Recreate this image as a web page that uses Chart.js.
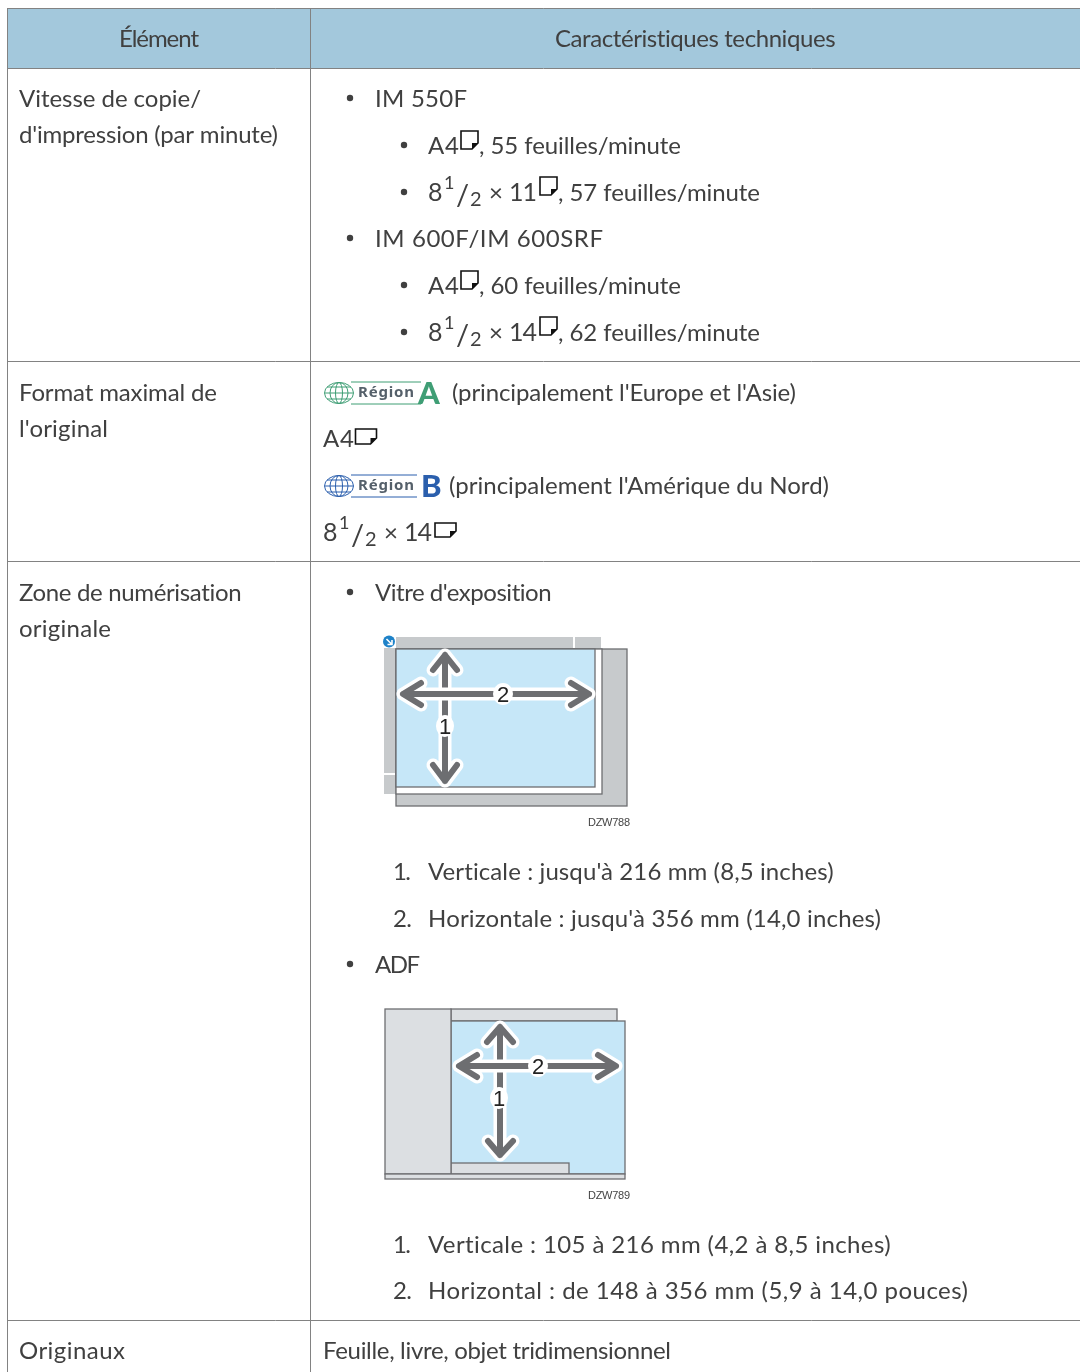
<!DOCTYPE html>
<html lang="fr">
<head>
<meta charset="utf-8">
<title>Caractéristiques techniques</title>
<script src="https://cdn.jsdelivr.net/npm/chart.js@4/dist/chart.umd.js"></script>
<style>
    body { margin: 0; background: #fff; }
    canvas { display: block; }
</style>
</head>
<body>
<canvas id="specTable" width="1080" height="1372"></canvas>
<script>
// table content
const columnHeaders = ['Élément', 'Caractéristiques techniques'];
const itemLines = ['Vitesse de copie/', "d'impression (par minute)", 'Format maximal de', "l'original", 'Zone de numérisation', 'originale', 'Originaux'];
const modelNames = ['IM 550F', 'IM 600F/IM 600SRF'];
const speedLines = [', 55 feuilles/minute', ', 57 feuilles/minute', ', 60 feuilles/minute', ', 62 feuilles/minute'];
const regionNotes = ["(principalement l'Europe et l'Asie)", "(principalement l'Amérique du Nord)"];
const scanHeadings = ["Vitre d'exposition", 'ADF'];
const scanLines = ["Verticale : jusqu'à 216 mm (8,5 inches)", "Horizontale : jusqu'à 356 mm (14,0 inches)", 'Verticale : 105 à 216 mm (4,2 à 8,5 inches)', 'Horizontal : de 148 à 356 mm (5,9 à 14,0 pouces)'];
const originalTypes = 'Feuille, livre, objet tridimensionnel';
const figureCodes = ['DZW788', 'DZW789'];

// table geometry, in axis units
const colEdges = [7, 310];
const rowEdges = [8, 68, 361, 561, 1320];
const bulletsBig = [[350, 98], [350, 238], [350, 592], [350, 964]];
const bulletsSmall = [[404, 145], [404, 192], [404, 285], [404, 332]];

const vArrow1 = [[433, 670], [445, 655], [457, 670], [445, 655], [445, 781], [433, 765], [445, 781], [457, 765]];
const hArrow1 = [[421, 683], [403, 694], [421, 705], [403, 694], [589, 694], [571, 683], [589, 694], [571, 705]];
const vArrow2 = [[487, 1042], [500, 1027], [513, 1042], [500, 1027], [500, 1155], [488, 1141], [500, 1155], [513, 1141]];
const hArrow2 = [[477, 1055], [459, 1066], [477, 1077], [459, 1066], [616, 1066], [598, 1055], [616, 1066], [598, 1077]];

const toPoints = list => list.map(p => ({ x: p[0], y: p[1] }));
const arrowSets = (path, order) => [
    { data: toPoints(path), showLine: true, pointRadius: 0, borderColor: '#6d6e71', borderWidth: 6, borderJoinStyle: 'round', borderCapStyle: 'round', order: order },
    { data: toPoints(path), showLine: true, pointRadius: 0, borderColor: '#ffffff', borderWidth: 13, borderJoinStyle: 'round', borderCapStyle: 'round', order: order + 1 }
];

const TEXT = '#404040';
const FONT = 'Lato';

const tablePainter = {
    id: 'tablePainter',
    beforeDatasetsDraw(chart) {
        const ctx = chart.ctx, sx = chart.scales.x, sy = chart.scales.y;
        const X = v => sx.getPixelForValue(v), Y = v => sy.getPixelForValue(v);
        const box = (x0, y0, x1, y1, fill, line) => {
            ctx.fillStyle = fill;
            ctx.fillRect(X(x0), Y(y0), X(x1) - X(x0), Y(y1) - Y(y0));
            if (line) {
                ctx.strokeStyle = line;
                ctx.lineWidth = 1.3;
                ctx.strokeRect(X(x0), Y(y0), X(x1) - X(x0), Y(y1) - Y(y0));
            }
        };

        // first figure
        box(396, 637, 573, 648, '#c7cacc');
        box(575, 637, 601, 648, '#c7cacc');
        box(384, 648, 395, 773, '#c7cacc');
        box(384, 775, 395, 794, '#c7cacc');
        box(396, 649, 627, 806, '#c7cacc', '#6d6e71');
        box(396, 649, 602, 794, '#ffffff', '#6d6e71');
        box(396, 649, 595, 787, '#c6e7f8', '#6d6e71');
        ctx.fillStyle = '#1e82c8';
        ctx.beginPath();
        ctx.arc(X(389), Y(641.5), 6, 0, Math.PI * 2);
        ctx.fill();
        ctx.strokeStyle = '#ffffff';
        ctx.lineWidth = 1.6;
        ctx.beginPath();
        ctx.moveTo(X(386.5), Y(639));
        ctx.lineTo(X(391.5), Y(644));
        ctx.moveTo(X(392), Y(640));
        ctx.lineTo(X(392), Y(644.5));
        ctx.lineTo(X(387.5), Y(644.5));
        ctx.stroke();

        // second figure
        box(451, 1009, 617, 1021, '#dcdfe2', '#6d6e71');
        box(451, 1021, 625, 1174, '#c6e7f8', '#6d6e71');
        box(451, 1163, 569, 1174, '#dcdfe2', '#6d6e71');
        box(385, 1009, 451, 1174, '#dcdfe2', '#6d6e71');
        box(385, 1174, 625, 1179, '#dcdfe2', '#6d6e71');
    },
    beforeDraw(chart) {
        const ctx = chart.ctx, sx = chart.scales.x, sy = chart.scales.y;
        ctx.fillStyle = '#a3c8dc';
        ctx.fillRect(sx.getPixelForValue(colEdges[0]), sy.getPixelForValue(rowEdges[0]),
            sx.getPixelForValue(1080) - sx.getPixelForValue(colEdges[0]),
            sy.getPixelForValue(rowEdges[1]) - sy.getPixelForValue(rowEdges[0]));
    },
    afterDatasetsDraw(chart) {
        const ctx = chart.ctx, sx = chart.scales.x, sy = chart.scales.y;
        const X = v => sx.getPixelForValue(v), Y = v => sy.getPixelForValue(v);
        ctx.save();
        ctx.textBaseline = 'alphabetic';
        ctx.textAlign = 'left';

        // text squeezed or stretched to the measured width of the line
        const put = (text, x, base, end, font, color) => {
            ctx.font = font || `400 24px ${FONT}`;
            ctx.fillStyle = color || TEXT;
            ctx.letterSpacing = '0px';
            if (end) {
                const w = ctx.measureText(text).width;
                ctx.letterSpacing = ((end - x - w) / Math.max(text.length - 1, 1)).toFixed(3) + 'px';
            }
            ctx.fillText(text, X(x), Y(base));
            ctx.letterSpacing = '0px';
        };

        // "8 1/2 x NN"
        const fraction = (x, base, tail) => {
            put('8', x, base, null, `400 25px ${FONT}`);
            put('1', x + 16, base - 12, null, `400 18px ${FONT}`);
            put('/', x + 28, base + 4, null, `400 29px ${FONT}`);
            put('2', x + 42, base + 5, null, `400 20px ${FONT}`);
            put('×', x + 61, base, null);
            put(tail, x + 81, base, x + 109, `400 25px ${FONT}`);
        };

        // paper icon with its folded corner
        const paper = (x, y, w, h) => {
            const fold = 6;
            ctx.strokeStyle = '#111';
            ctx.lineWidth = 1.6;
            ctx.beginPath();
            ctx.moveTo(X(x), Y(y));
            ctx.lineTo(X(x + w), Y(y));
            ctx.lineTo(X(x + w), Y(y + h - fold));
            ctx.lineTo(X(x + w - fold), Y(y + h));
            ctx.lineTo(X(x), Y(y + h));
            ctx.closePath();
            ctx.stroke();
            ctx.fillStyle = '#111';
            ctx.beginPath();
            ctx.moveTo(X(x + w), Y(y + h - fold));
            ctx.lineTo(X(x + w - fold), Y(y + h));
            ctx.lineTo(X(x + w - fold), Y(y + h - fold));
            ctx.closePath();
            ctx.fill();
        };

        // Région badge
        const badge = (cy, lineEnd, color, letter, letterX) => {
            ctx.strokeStyle = color;
            ctx.lineWidth = 1;
            ctx.beginPath();
            ctx.ellipse(X(339), Y(cy), 14.5, 10.5, 0, 0, Math.PI * 2);
            ctx.moveTo(X(339) + 9, Y(cy));
            ctx.ellipse(X(339), Y(cy), 9, 10.5, 0, 0, Math.PI * 2);
            ctx.moveTo(X(339) + 3.5, Y(cy));
            ctx.ellipse(X(339), Y(cy), 3.5, 10.5, 0, 0, Math.PI * 2);
            ctx.moveTo(X(325), Y(cy));
            ctx.lineTo(X(353), Y(cy));
            ctx.moveTo(X(327), Y(cy - 6));
            ctx.lineTo(X(351), Y(cy - 6));
            ctx.moveTo(X(327), Y(cy + 6));
            ctx.lineTo(X(351), Y(cy + 6));
            ctx.moveTo(X(351), Y(cy - 11));
            ctx.lineTo(X(lineEnd), Y(cy - 11));
            ctx.moveTo(X(351), Y(cy + 11));
            ctx.lineTo(X(lineEnd), Y(cy + 11));
            ctx.stroke();
            put('Région', 358, cy + 4, 414, '700 15px "Noto Sans"', '#55606a');
            put(letter, letterX, cy + 11, null, '900 31px Lato', color);
        };

        // headers
        put(columnHeaders[0], 119, 47, 199);
        put(columnHeaders[1], 555, 47, 836);

        // first column
        put(itemLines[0], 19, 107, 201);
        put(itemLines[1], 19, 143, 278);
        put(itemLines[2], 19, 401, 217);
        put(itemLines[3], 19, 437, 108);
        put(itemLines[4], 19, 601, 242);
        put(itemLines[5], 19, 637, 111);
        put(itemLines[6], 19, 1359, 125);

        // copy speed
        put(modelNames[0], 375, 107, 467);
        put('A4', 428, 154, 459);
        paper(461, 131, 17, 18);
        put(speedLines[0], 479, 154, 681);
        fraction(428, 201, '11');
        paper(540, 177, 17, 18);
        put(speedLines[1], 558, 201, 760);
        put(modelNames[1], 375, 247, 603);
        put('A4', 428, 294, 459);
        paper(461, 271, 17, 18);
        put(speedLines[2], 479, 294, 681);
        fraction(428, 341, '14');
        paper(540, 317, 17, 18);
        put(speedLines[3], 558, 341, 760);

        // original format
        badge(393, 421, '#3f9e75', 'A', 418);
        put(regionNotes[0], 452, 401, 796);
        put('A4', 323, 447, 354);
        paper(355.5, 429, 21, 15);
        badge(486, 417, '#2b5fad', 'B', 421);
        put(regionNotes[1], 449, 494, 829);
        fraction(323, 541, '14');
        paper(435, 523, 21, 14);

        // scan area
        put(scanHeadings[0], 375, 601, 552);
        put('1.', 393, 880, 411);
        put(scanLines[0], 428, 880, 834);
        put('2.', 393, 927, 412);
        put(scanLines[1], 428, 927, 881);
        put(scanHeadings[1], 375, 973, 420);
        put('1.', 393, 1253, 411);
        put(scanLines[2], 428, 1253, 891);
        put('2.', 393, 1299, 412);
        put(scanLines[3], 428, 1299, 968);
        put(originalTypes, 323, 1359, 671);

        // figure numbers on their white halo
        const figFont = '400 22px "Liberation Sans"';
        [['2', 503, 694, 10], ['1', 445, 726, 9], ['2', 538, 1066, 10], ['1', 499, 1098, 9]].forEach(n => {
            ctx.fillStyle = '#fff';
            ctx.beginPath();
            ctx.ellipse(X(n[1]), Y(n[2]), n[3], 11, 0, 0, Math.PI * 2);
            ctx.fill();
            ctx.font = figFont;
            ctx.fillStyle = '#222';
            ctx.textAlign = 'center';
            ctx.fillText(n[0], X(n[1]), Y(n[2] + 8));
            ctx.textAlign = 'left';
        });
        put(figureCodes[0], 588, 826, 630, '400 11px "Liberation Sans"', '#444');
        put(figureCodes[1], 588, 1199, 630, '400 11px "Liberation Sans"', '#444');
        ctx.restore();
    }
};

new Chart(document.getElementById('specTable').getContext('2d'), {
    type: 'scatter',
    data: {
        datasets: [
            { data: toPoints(bulletsBig), pointRadius: 3.2, backgroundColor: TEXT, borderWidth: 0, order: 0 },
            { data: toPoints(bulletsSmall), pointRadius: 3.2, backgroundColor: TEXT, borderWidth: 0, order: 0 },
            ...arrowSets(hArrow1, 1),
            ...arrowSets(vArrow1, 3),
            ...arrowSets(hArrow2, 1),
            ...arrowSets(vArrow2, 3)
        ]
    },
    plugins: [tablePainter],
    options: {
        responsive: false,
        animation: false,
        events: [],
        layout: { autoPadding: false, padding: { left: 7, top: 8, right: 0, bottom: 0 } },
        plugins: { legend: { display: false }, tooltip: { enabled: false } },
        scales: {
            x: {
                type: 'linear',
                min: 7,
                max: 1080,
                border: { display: false },
                ticks: { display: false },
                grid: { color: '#828282', lineWidth: 1, drawTicks: false },
                afterBuildTicks: axis => { axis.ticks = colEdges.map(v => ({ value: v })); }
            },
            y: {
                type: 'linear',
                reverse: true,
                min: 8,
                max: 1372,
                border: { display: false },
                ticks: { display: false },
                grid: { color: '#828282', lineWidth: 1, drawTicks: false },
                afterBuildTicks: axis => { axis.ticks = rowEdges.map(v => ({ value: v })); }
            }
        }
    }
});
</script>
</body>
</html>
